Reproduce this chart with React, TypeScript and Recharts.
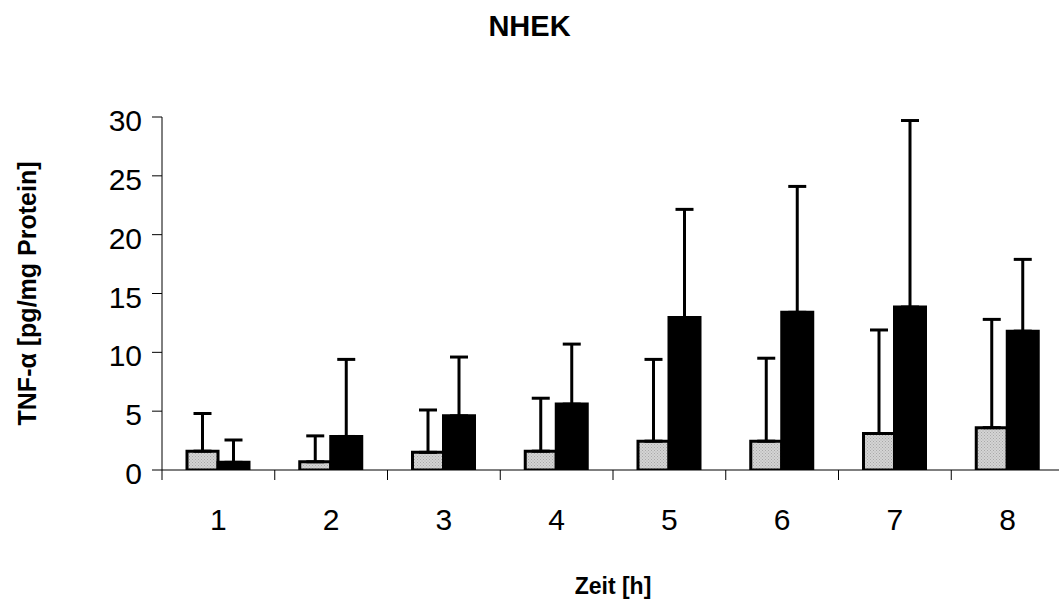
import React from 'react';
import { BarChart, Bar, XAxis, YAxis, ErrorBar } from 'recharts';

const categories = ['1', '2', '3', '4', '5', '6', '7', '8'];
const grayMean = [1.6, 0.7, 1.5, 1.6, 2.45, 2.45, 3.1, 3.6];
const graySD = [3.2, 2.2, 3.6, 4.5, 6.95, 7.05, 8.8, 9.2];
const blackMean = [0.65, 2.85, 4.6, 5.6, 12.95, 13.4, 13.85, 11.8];
const blackSD = [1.9, 6.55, 5.0, 5.1, 9.2, 10.7, 15.85, 6.1];
const yTicks = [0, 5, 10, 15, 20, 25, 30];

const data = categories.map((c, i) => ({
  cat: c,
  gray: grayMean[i],
  grayErr: [0, graySD[i]],
  black: blackMean[i],
  blackErr: [0, blackSD[i]],
}));

const FONT = '"Liberation Sans", Arial, Helvetica, sans-serif';
const CHART_W = 1080;
const CHART_H = 600;
const MARGIN = { top: 117, right: 16, bottom: 0, left: 0 };
const Y_W = 162;
const PLOT_W = CHART_W - MARGIN.left - MARGIN.right - Y_W;
const HALF_BAND = PLOT_W / (categories.length * 2);

const XTick = (props: any) => {
  const { x, y, payload } = props;
  return (
    <g>
      <line x1={x - HALF_BAND} x2={x - HALF_BAND} y1={y} y2={y + 10} stroke="#000" strokeWidth={1} />
      <text x={x} y={y + 59.5} textAnchor="middle" fontSize={30} fontFamily={FONT} fill="#000">
        {payload.value}
      </text>
    </g>
  );
};

const YTick = (props: any) => {
  const { x, y, payload } = props;
  return (
    <text x={x} y={y + 14} textAnchor="end" fontSize={30} fontFamily={FONT} fill="#000">
      {payload.value}
    </text>
  );
};

export default function App() {
  return (
    <div
      style={{
        position: 'absolute',
        left: 0,
        top: 0,
        width: 1059,
        height: 600,
        overflow: 'hidden',
        background: '#fff',
      }}
    >
      <div
        style={{
          position: 'absolute',
          left: 0,
          top: 11.5,
          width: 1059,
          textAlign: 'center',
          fontFamily: FONT,
          fontWeight: 'bold',
          fontSize: 29,
          lineHeight: '29px',
          color: '#000',
        }}
      >
        NHEK
      </div>
      <BarChart
        width={CHART_W}
        height={CHART_H}
        data={data}
        margin={MARGIN}
        barGap={0}
        barSize={31}
      >
        <defs>
          <pattern id="dots" width="3" height="3" patternUnits="userSpaceOnUse">
            <rect width="3" height="3" fill="#d4d4d4" />
            <rect x="0" y="0" width="1" height="1" fill="#a8a8a8" />
            <rect x="1.5" y="1.5" width="1" height="1" fill="#a8a8a8" />
          </pattern>
        </defs>
        <XAxis
          dataKey="cat"
          height={130}
          interval={0}
          tickLine={false}
          tickSize={0}
          tickMargin={0}
          axisLine={{ stroke: '#000', strokeWidth: 1 }}
          tick={XTick}
          label={{
            content: (p: any) => {
              const vb = p.viewBox || {};
              return (
                <text
                  x={vb.x + vb.width / 2}
                  y={594}
                  textAnchor="middle"
                  fontSize={23}
                  fontWeight="bold"
                  fontFamily={FONT}
                  fill="#000"
                >
                  Zeit [h]
                </text>
              );
            },
          }}
        />
        <YAxis
          width={Y_W}
          domain={[0, 30]}
          ticks={yTicks}
          interval={0}
          tickSize={10}
          tickMargin={10}
          tickLine={{ stroke: '#000', strokeWidth: 1 }}
          axisLine={{ stroke: '#000', strokeWidth: 1 }}
          tick={YTick}
          allowDataOverflow
          label={{
            content: (p: any) => {
              const vb = p.viewBox || {};
              const cy = vb.y + vb.height / 2;
              return (
                <text
                  x={36}
                  y={cy}
                  transform={`rotate(-90, 36, ${cy})`}
                  textAnchor="middle"
                  fontSize={25}
                  fontWeight="bold"
                  fontFamily={FONT}
                  fill="#000"
                >
                  TNF-α [pg/mg Protein]
                </text>
              );
            },
          }}
        />
        <Bar dataKey="gray" fill="url(#dots)" stroke="#000" strokeWidth={3} isAnimationActive={false}>
          <ErrorBar dataKey="grayErr" direction="y" width={9} stroke="#000" strokeWidth={3} />
        </Bar>
        <Bar dataKey="black" fill="#000" stroke="#000" strokeWidth={3} isAnimationActive={false}>
          <ErrorBar dataKey="blackErr" direction="y" width={9} stroke="#000" strokeWidth={3} />
        </Bar>
      </BarChart>
    </div>
  );
}
